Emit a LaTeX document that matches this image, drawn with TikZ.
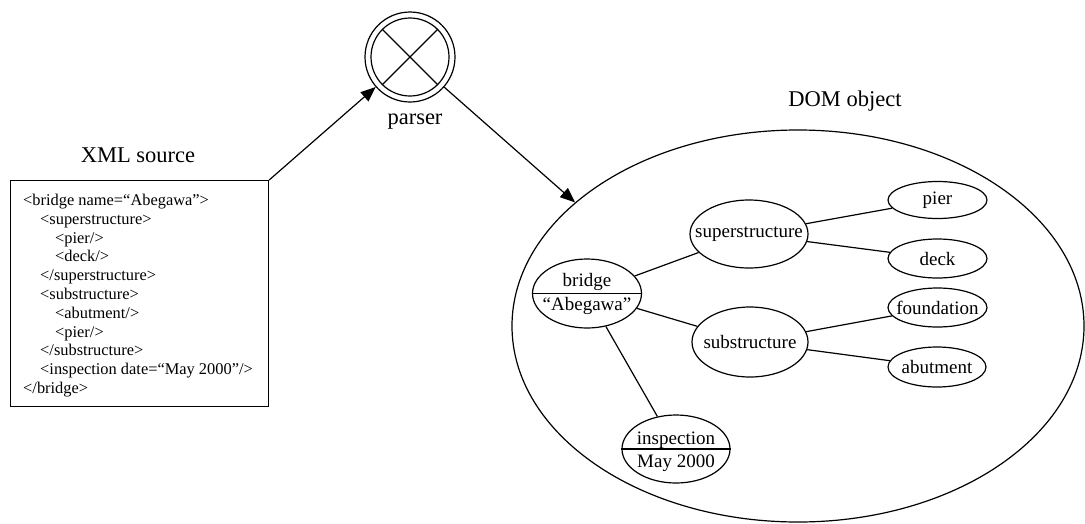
\documentclass[tikz,border=0pt]{standalone}
\usepackage{fontspec}
\setmainfont{Liberation Serif}
\usetikzlibrary{shapes.geometric,arrows.meta}

\tikzset{
  stroke/.style={line width=1.2pt, black},
  oval/.style={stroke, draw, ellipse, inner sep=0pt},
  nodetext/.style={inner sep=0pt, font=\fontsize{19}{21}\selectfont},
  caption/.style={inner sep=0pt, font=\fontsize{22.5}{24}\selectfont},
  arrow/.style={stroke, -{Triangle[length=15pt,width=12pt]}},
  link/.style={stroke},
}

\begin{document}
\begin{tikzpicture}[x=1pt, y=-1pt]
\useasboundingbox (0,0) rectangle (1085,523);

% XML source listing
\node[caption] (xmltitle) at (138,155) {XML source};
\node[stroke, draw, rectangle, minimum width=258pt, minimum height=226pt,
      anchor=north west, inner sep=0pt] (xml) at (10,180) {};
\node[anchor=north west, inner sep=0pt, align=left,
      font=\fontsize{16.4}{18.8}\selectfont] (listing) at (23,194) {%
<bridge name=“Abegawa”>\\
\hspace*{17pt}<superstructure>\\
\hspace*{32pt}<pier/>\\
\hspace*{32pt}<deck/>\\
\hspace*{17pt}</superstructure>\\
\hspace*{17pt}<substructure>\\
\hspace*{32pt}<abutment/>\\
\hspace*{32pt}<pier/>\\
\hspace*{17pt}</substructure>\\
\hspace*{17pt}<inspection date=“May 2000”/>\\
</bridge>};

% parser symbol: double circle with a cross
\node[stroke, draw, circle, minimum size=90pt, inner sep=0pt] (parser) at (410,57) {};
\node[stroke, draw, circle, minimum size=78pt, inner sep=0pt] (parserin) at (410,57) {};
\draw[stroke] (parserin.45) -- (parserin.225);
\draw[stroke] (parserin.135) -- (parserin.315);
\node[caption] (parserlabel) at (415,122) {parser};

% DOM object
\node[caption] (domtitle) at (845,101) {DOM object};
\node[oval, minimum width=572pt, minimum height=392pt] (dom) at (798,326) {};

% tree nodes
\node[oval, minimum width=109pt, minimum height=69pt] (bridge) at (587,293.5) {};
\draw[stroke] (bridge.west) -- (bridge.east);
\node[nodetext] (bridgename) at (587,282) {bridge};
\node[nodetext] (bridgeval) at (587,306) {“Abegawa”};

\node[oval, minimum width=118pt, minimum height=68pt] (super) at (749,234) {};
\node[nodetext] (supertext) at (749,234) {superstructure};

\node[oval, minimum width=116pt, minimum height=70pt] (sub) at (750,342) {};
\node[nodetext] (subtext) at (750,342) {substructure};

\node[oval, minimum width=99pt, minimum height=37pt] (pier) at (937.5,200) {};
\node[nodetext] (piertext) at (937.5,200) {pier};
\node[oval, minimum width=99pt, minimum height=39pt] (deck) at (937.5,258.5) {};
\node[nodetext] (decktext) at (937.5,258.5) {deck};
\node[oval, minimum width=99pt, minimum height=39pt] (found) at (937.5,307.5) {};
\node[nodetext] (foundtext) at (937.5,307.5) {foundation};
\node[oval, minimum width=98pt, minimum height=40pt] (abut) at (937,367) {};
\node[nodetext] (abuttext) at (937,367) {abutment};

\node[oval, minimum width=108pt, minimum height=68pt] (insp) at (676,449) {};
\draw[stroke] (insp.west) -- (insp.east);
\node[nodetext] (inspname) at (676,440) {inspection};
\node[nodetext] (inspval) at (676,463) {May 2000};

% tree edges
\draw[link] (bridge) -- (super);
\draw[link] (bridge) -- (sub);
\draw[link] (bridge) -- (insp);
\draw[link] (super) -- (pier);
\draw[link] (super) -- (deck);
\draw[link] (sub) -- (found);
\draw[link] (sub) -- (abut);

% flow arrows
\draw[arrow] (xml.north east) -- (parser);
\coordinate (domentry) at (dom.151);
\draw[arrow] (parser) -- (domentry);
\end{tikzpicture}
\end{document}
